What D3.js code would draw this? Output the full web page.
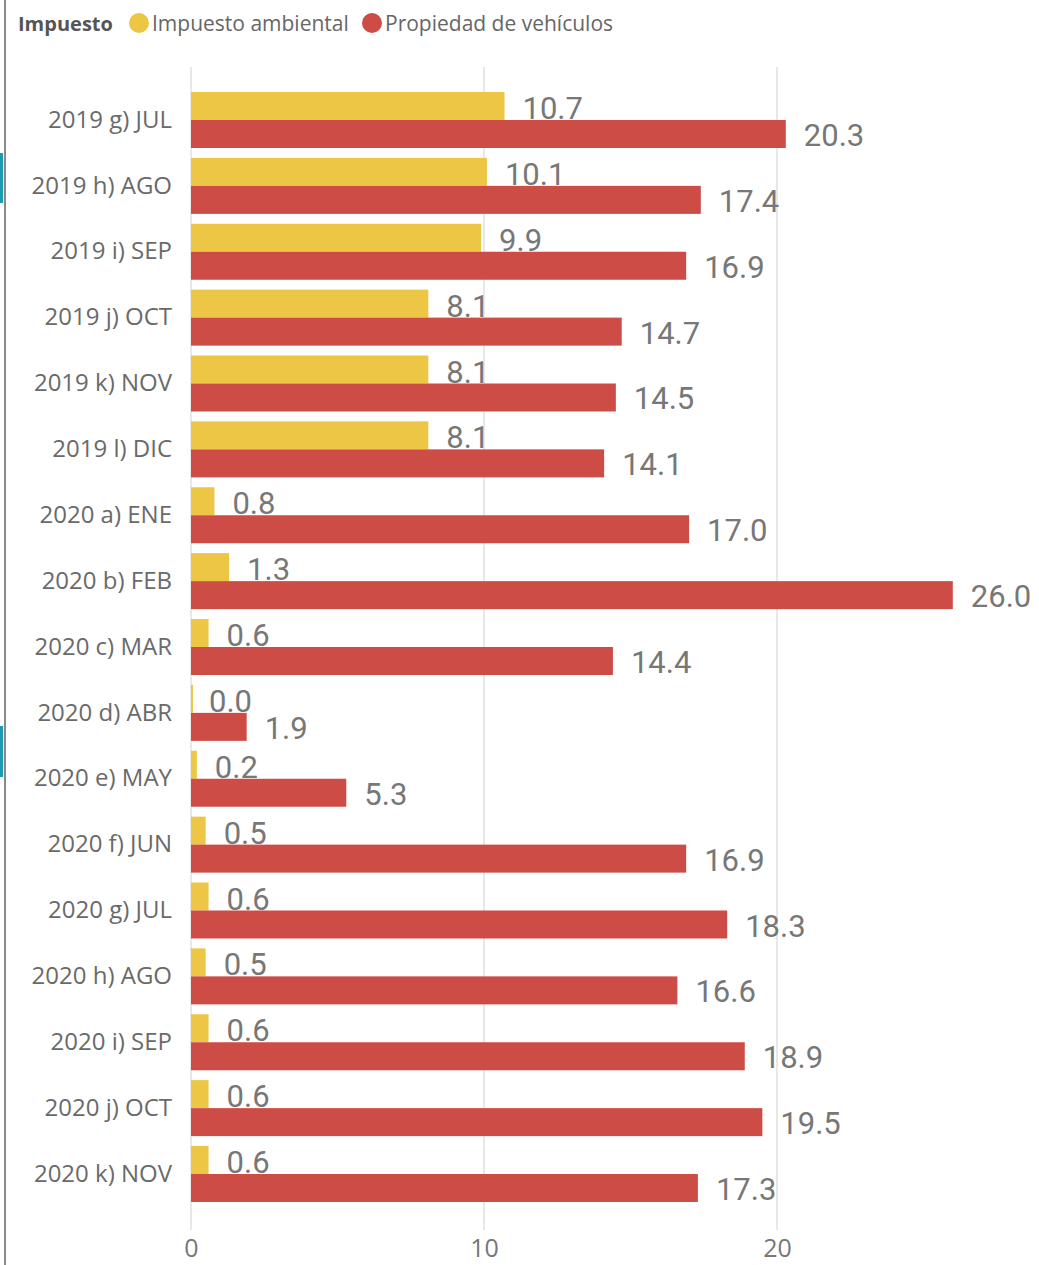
<!DOCTYPE html>
<html>
<head>
<meta charset="utf-8">
<script src="https://cdn.jsdelivr.net/npm/d3@7/dist/d3.min.js"></script>
<style>
  html, body { margin: 0; padding: 0; background: #fff; }
  svg { display: block; }
</style>
</head>
<body>
<svg id="chart" width="1039" height="1265"></svg>
<script>
// Monthly revenue by tax type
const categories = [
  "2019 g) JUL", "2019 h) AGO", "2019 i) SEP", "2019 j) OCT", "2019 k) NOV", "2019 l) DIC",
  "2020 a) ENE", "2020 b) FEB", "2020 c) MAR", "2020 d) ABR", "2020 e) MAY", "2020 f) JUN",
  "2020 g) JUL", "2020 h) AGO", "2020 i) SEP", "2020 j) OCT", "2020 k) NOV"
];
const seriesNames = ["Impuesto ambiental", "Propiedad de vehículos"];
const ambiental = [10.7, 10.1, 9.9, 8.1, 8.1, 8.1, 0.8, 1.3, 0.6, 0.0, 0.2, 0.5, 0.6, 0.5, 0.6, 0.6, 0.6];
const vehiculos = [20.3, 17.4, 16.9, 14.7, 14.5, 14.1, 17.0, 26.0, 14.4, 1.9, 5.3, 16.9, 18.3, 16.6, 18.9, 19.5, 17.3];
const xTicks = [0, 10, 20];
const colors = ["#EDC645", "#CD4C46"];

const svg = d3.select("#chart");

// left frame strip
svg.append("rect").attr("x", 4).attr("y", 0).attr("width", 2).attr("height", 1265).attr("fill", "#8a8a8a");
svg.append("rect").attr("x", 0).attr("y", 153).attr("width", 3).attr("height", 50).attr("fill", "#1E9BAE");
svg.append("rect").attr("x", 0).attr("y", 726).attr("width", 3).attr("height", 51).attr("fill", "#1E9BAE");

// legend
const legend = svg.append("g").attr("font-family", "'Open Sans', 'Noto Sans', sans-serif").attr("font-size", 21);
legend.append("text").attr("x", 18).attr("y", 31).attr("font-size", 20).attr("font-weight", 700).attr("fill", "#555").text("Impuesto");
const legendX = [139, 372];
seriesNames.forEach((name, i) => {
  legend.append("circle").attr("cx", legendX[i]).attr("cy", 23).attr("r", 10).attr("fill", colors[i]);
  legend.append("text").attr("x", legendX[i] + 13).attr("y", 31).attr("fill", "#666").text(name);
});

// scales
const x = d3.scaleLinear().domain([0, 10]).range([191, 484]);
const y = d3.scaleBand().domain(categories).range([92, 1202]).paddingInner(0.15).paddingOuter(0);
const ySub = d3.scaleBand().domain([0, 1]).range([0, y.bandwidth()]);

// gridlines
svg.append("g").selectAll("line").data(xTicks).join("line")
  .attr("x1", d => x(d)).attr("x2", d => x(d))
  .attr("y1", 67).attr("y2", 1230)
  .attr("stroke", "#e8e8e8").attr("stroke-width", 2);

// x axis labels
const xAxis = d3.axisBottom(x).tickValues(xTicks).tickSize(0).tickPadding(0).tickFormat(d3.format("d"));
const axisG = svg.append("g").attr("transform", "translate(0,1239)").call(xAxis);
axisG.select(".domain").remove();
axisG.selectAll("text")
  .attr("font-family", "'Open Sans', 'Noto Sans', sans-serif")
  .attr("font-size", 25).attr("fill", "#777").attr("dy", "0.71em");

// category labels
const yAxis = d3.axisLeft(y).tickSize(0).tickPadding(0);
const yG = svg.append("g").attr("transform", "translate(172,0)").call(yAxis);
yG.select(".domain").remove();
yG.selectAll("text")
  .attr("font-family", "'Open Sans', 'Noto Sans', sans-serif")
  .attr("font-size", 24).attr("fill", "#6a6a6a");

const labelFont = "Roboto, 'DejaVu Sans Condensed', sans-serif";
const seriesData = [ambiental, vehiculos];

// draw series in order so the red bars sit over the yellow labels
seriesData.forEach((vals, s) => {
  const g = svg.append("g");
  g.selectAll("rect").data(vals).join("rect")
    .attr("x", x(0))
    .attr("y", (d, i) => y(categories[i]) + ySub(s))
    .attr("width", d => Math.max(x(d) - x(0), d > 0 ? 0 : 2))
    .attr("height", ySub.bandwidth())
    .attr("fill", colors[s]);
  g.selectAll("text").data(vals).join("text")
    .attr("x", d => x(d) + 18)
    .attr("y", (d, i) => y(categories[i]) + ySub(s) + ySub.bandwidth() / 2 + (s === 0 ? 13 : 12))
    .attr("font-family", labelFont)
    .attr("font-size", 31)
    .attr("fill", "#777")
    .text(d => d.toFixed(1));
});
</script>
</body>
</html>
